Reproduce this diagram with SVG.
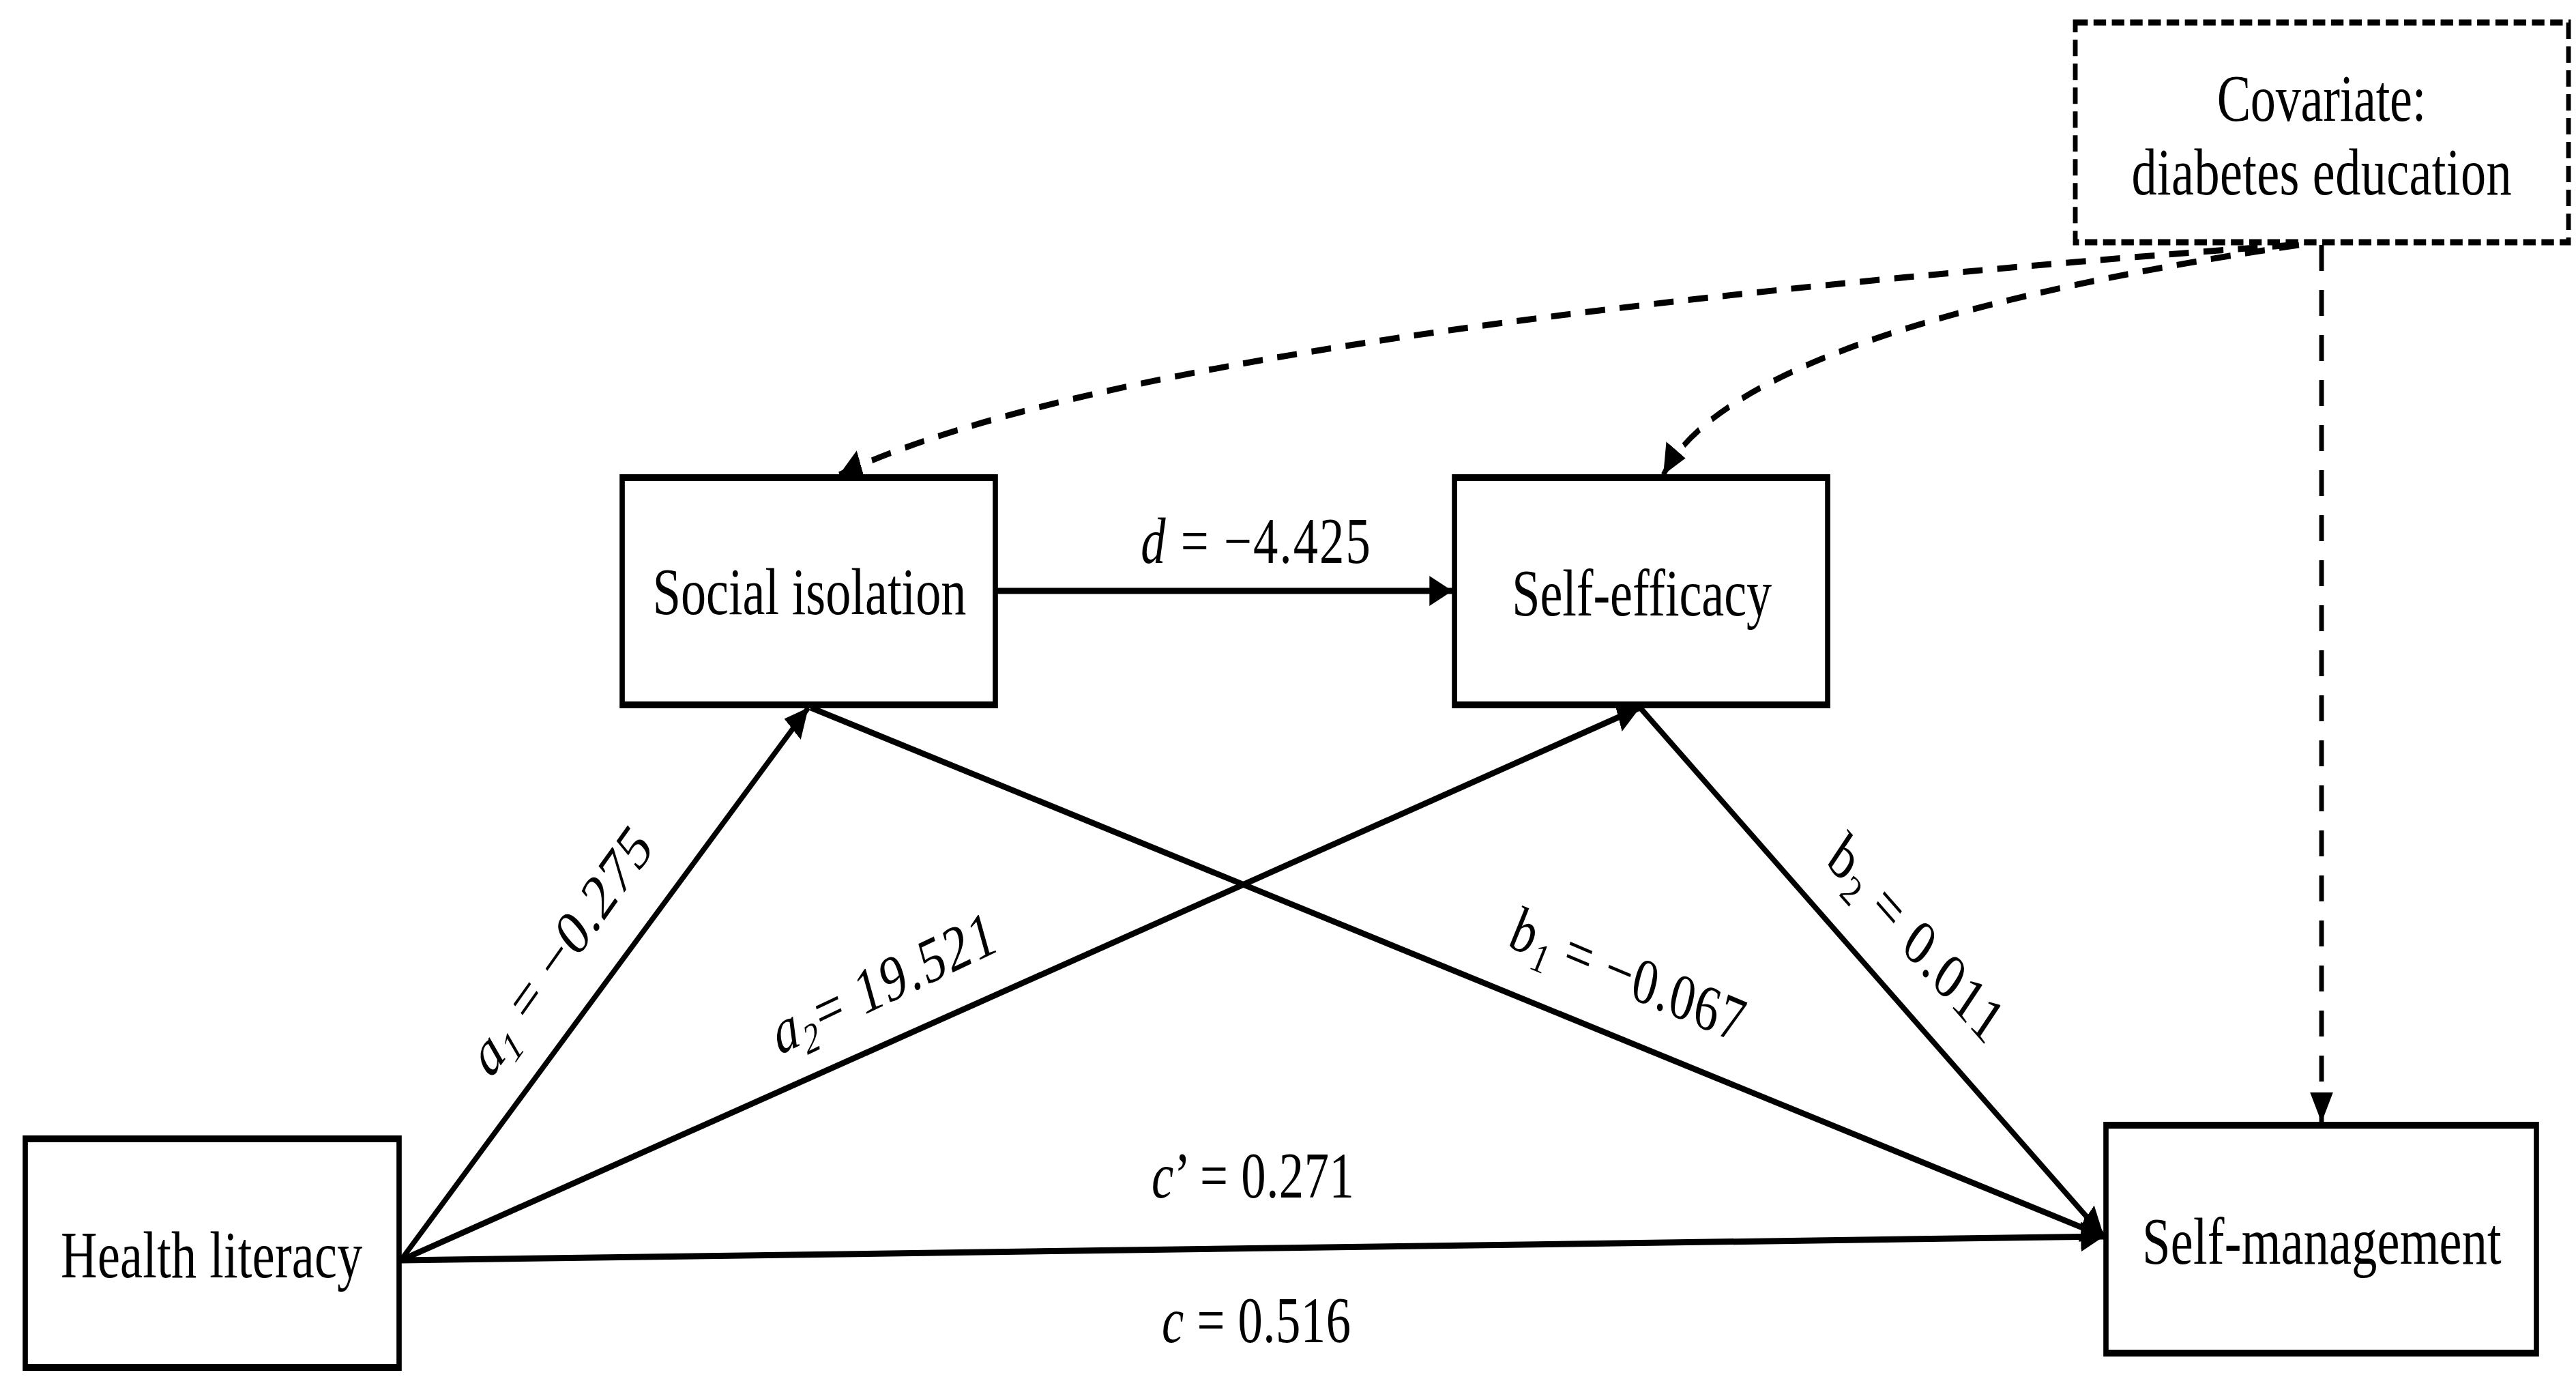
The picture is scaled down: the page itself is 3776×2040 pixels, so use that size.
<svg xmlns="http://www.w3.org/2000/svg" width="3776" height="2040" viewBox="0 0 3776 2040">
<defs>
<style>
.box{fill:#fff;stroke:#000;stroke-width:10}
.cov{fill:#fff;stroke:#000;stroke-width:9;stroke-dasharray:24 11}
.t{font-family:"Liberation Serif","Times New Roman",serif;font-size:97px;fill:#000;text-anchor:middle}
.l{font-family:"Liberation Serif","Times New Roman",serif;font-size:95px;fill:#000;text-anchor:middle}
.e{fill:none;stroke:#000;stroke-width:9;marker-end:url(#ah)}
.dd{stroke-dasharray:38 28}
.i{font-style:italic}
</style>
<marker id="ah" markerUnits="userSpaceOnUse" viewBox="0 0 44 44" markerWidth="44" markerHeight="44" refX="44" refY="22" orient="auto"><path d="M0,0 L44,22 L0,44 z" fill="#000"/></marker>
</defs>
<rect width="3776" height="2040" fill="#fff"/>
<g transform="scale(0.765,1)">
  <g id="connectors">
    <path class="e" d="M1911,866 L2783,866"/>
    <path class="e" d="M768,1847 L1549,1037"/>
    <path class="e" d="M768,1847 L3142.5,1037"/>
    <path class="e" d="M1553,1037 L4031.4,1812"/>
    <path class="e" d="M3142.5,1037 L4031.4,1812"/>
    <path class="e" d="M768,1847 L4031.4,1812"/>
    <path class="e dd" d="M4448.4,359 L4448.4,1645"/>
    <path class="e dd" d="M4392.2,359 Q2194.8,482 1607.8,696"/>
    <path class="e dd" d="M4405.2,359 Q3328.1,482 3187,696"/>
  </g>
  <g id="covariate">
    <rect class="cov" x="3976.5" y="33" width="945.1" height="322"/>
    <text class="t" x="4448.4" y="177" textLength="401">Covariate:</text>
    <text class="t" x="4448.4" y="285" textLength="728">diabetes education</text>
  </g>
  <g id="social-isolation">
    <rect class="box" x="1192.2" y="700" width="715" height="333"/>
    <text class="t" x="1551" y="900" textLength="601">Social isolation</text>
  </g>
  <g id="self-efficacy">
    <rect class="box" x="2787" y="700" width="715" height="333"/>
    <text class="t" x="3146" y="902" textLength="498">Self-efficacy</text>
  </g>
  <g id="health-literacy">
    <rect class="box" x="48.4" y="1669" width="716.3" height="335"/>
    <text class="t" x="405.5" y="1872" textLength="578">Health literacy</text>
  </g>
  <g id="self-management">
    <rect class="box" x="4035.3" y="1649" width="824.8" height="334"/>
    <text class="t" x="4449" y="1852" textLength="688">Self-management</text>
  </g>
  <g id="labels">
    <text class="l" x="2405.9" y="825" textLength="440"><tspan class="i">d</tspan> = −4.425</text>
    <text class="l" x="2400.7" y="1755" textLength="388"><tspan class="i">c</tspan>’ = 0.271</text>
    <text class="l" x="2407.2" y="1967" textLength="362"><tspan class="i">c</tspan> = 0.516</text>
    <text class="l" transform="translate(1097,1414) rotate(-47)" textLength="460"><tspan class="i">a</tspan><tspan class="i" font-size="62" dy="18">1</tspan><tspan dy="-18"> = −0.275</tspan></text>
    <text class="l" transform="translate(1703.7,1469.8) rotate(-20)" textLength="448"><tspan class="i">a</tspan><tspan class="i" font-size="62" dy="18">2</tspan><tspan dy="-18">= 19.521</tspan></text>
    <text class="l" transform="translate(3110,1458.2) rotate(17.8)" textLength="465"><tspan class="i">b</tspan><tspan class="i" font-size="62" dy="18">1</tspan><tspan dy="-18"> = −0.067</tspan></text>
    <text class="l" transform="translate(3651.3,1399) rotate(41)" textLength="410">b<tspan font-size="62" dy="18">2</tspan><tspan dy="-18"> = 0.011</tspan></text>
  </g>
</g>
</svg>
